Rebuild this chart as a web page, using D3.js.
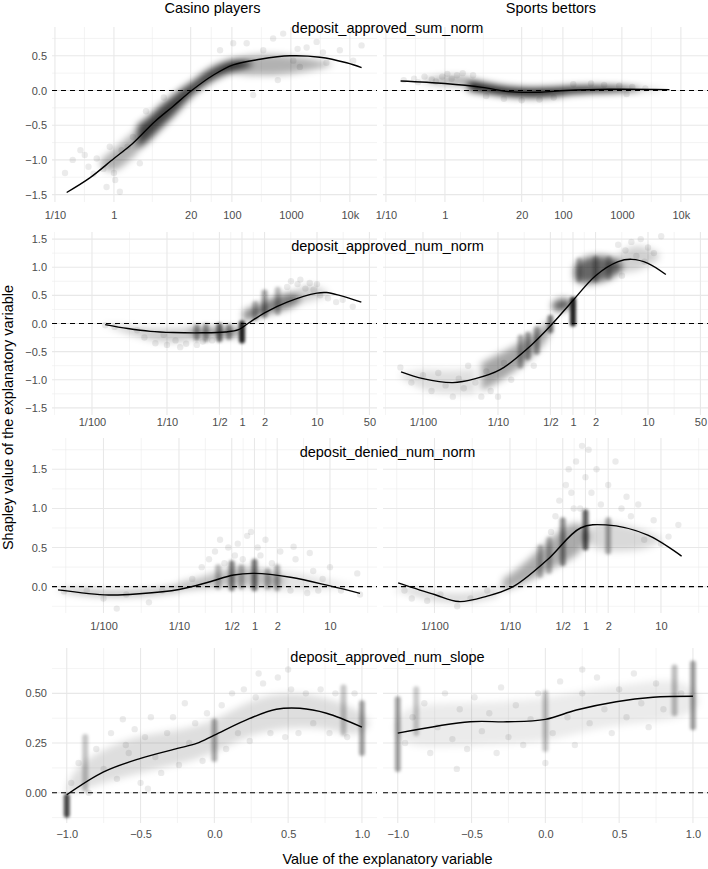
<!DOCTYPE html>
<html>
<head>
<meta charset="utf-8">
<title>Shapley dependence</title>
<script src="https://cdn.jsdelivr.net/npm/d3@7"></script>
<style>
body { margin: 0; background: #fff; }
svg text { font-family: "Liberation Sans", Arial, Helvetica, sans-serif; }
</style>
</head>
<body>
<svg id="chart"></svg>
<script>

// ---------- tick breaks ----------
var sumNormXBreaks = [0.1, 1, 20, 100, 1000, 10000];
var sumNormXLabels = ["1/10", "1", "20", "100", "1000", "10k"];
var numNormXBreaks = [0.01, 0.1, 0.5, 1, 2, 10, 50];
var numNormXLabels = ["1/100", "1/10", "1/2", "1", "2", "10", "50"];
var deniedXBreaks = [0.01, 0.1, 0.5, 1, 2, 10];
var deniedXLabels = ["1/100", "1/10", "1/2", "1", "2", "10"];
var slopeXBreaks = [-1, -0.5, 0, 0.5, 1];
var slopeXLabels = ["−1.0", "−0.5", "0.0", "0.5", "1.0"];

var sumNormYBreaks = [-1.5, -1, -0.5, 0, 0.5];
var sumNormYLabels = ["−1.5", "−1.0", "−0.5", "0.0", "0.5"];
var numNormYBreaks = [-1.5, -1, -0.5, 0, 0.5, 1, 1.5];
var numNormYLabels = ["−1.5", "−1.0", "−0.5", "0.0", "0.5", "1.0", "1.5"];
var deniedYBreaks = [0, 0.5, 1, 1.5];
var deniedYLabels = ["0.0", "0.5", "1.0", "1.5"];
var slopeYBreaks = [0, 0.25, 0.5];
var slopeYLabels = ["0.00", "0.25", "0.50"];

var groups = ["Casino players", "Sports bettors"];
var variables = ["deposit_approved_sum_norm", "deposit_approved_num_norm", "deposit_denied_num_norm", "deposit_approved_num_slope"];

// ---------- deposit_approved_sum_norm ----------
// line: [x, y]; bands: [x, low, high] outlines of the dense part of the cloud;
// cols: [x, low, high, density] stacks at discrete x; pts: [x, y] loose points
var casinoSumLine = [[0.158,-1.47],[0.39,-1.26],[1,-0.98],[2.1,-0.76],[4.9,-0.45],[10,-0.23],[20.8,0],[48,0.22],[105,0.37],[300,0.45],[960,0.5],[3100,0.48],[8800,0.40],[15800,0.33]];
var casinoSumBands = [
  [[0.6,-1.1,-1.0],[1,-1.2,-0.85],[1.6,-1.05,-0.7],[2.5,-0.9,-0.55]],
  [[2.5,-0.85,-0.5],[4,-0.72,-0.38],[6,-0.55,-0.22],[10,-0.38,-0.08],[15,-0.2,0.05],[22,-0.05,0.12],[35,0.08,0.28],[60,0.2,0.38],[100,0.27,0.45],[160,0.32,0.44],[220,0.37,0.4]],
  [[60,0.3,0.34],[150,0.22,0.5],[400,0.22,0.52],[1000,0.24,0.5],[2500,0.3,0.45],[5000,0.37,0.39]]
];
var casinoSumBandDens = [0.3, 0.75, 0.3];
var casinoSumPts = [[0.148,-1.19],[0.27,-0.86],[0.32,-0.93],[0.51,-0.98],[0.66,-1.13],[0.75,-1.39],[1,-1.19],[1.05,-1.29],[1.26,-1.46],[1.35,-0.86],[2.1,-0.67],[2.75,-1.05],[0.85,-0.81],[0.37,-1.1],[1.7,-0.81],[0.2,-1.0],[0.45,-1.2],[3.5,-0.3],[7,-0.1],
  [178,0.68],[340,0.58],[500,0.75],[740,0.82],[1100,0.43],[1420,0.34],[1850,0.62],[2730,0.70],[4000,0.40],[6760,0.58],[11400,0.43],[15800,0.65],[230,-0.065],[105,0.68],[63,0.58],[600,0.15],[1300,0.6],[3500,0.55]];

var sportsSumLine = [[0.177,0.137],[1,0.10],[4.3,0.045],[12,-0.017],[40,-0.025],[112,0.0],[620,0.017],[6400,0.012]];
var sportsSumBands = [
  [[0.4,0.13,0.15],[0.8,0.08,0.2],[1.5,0.07,0.22],[2.5,0.05,0.2]],
  [[2.5,0.0,0.15],[4,-0.03,0.12],[8,-0.06,0.07],[15,-0.09,0.04],[30,-0.1,0.03],[60,-0.09,0.04],[100,-0.06,0.05],[250,-0.03,0.07],[600,-0.02,0.06],[1200,-0.01,0.05],[2000,0.01,0.03]],
  [[1200,-0.01,0.04],[3000,0.0,0.03],[5000,0.01,0.02]]
];
var sportsSumBandDens = [0.3, 0.9, 0.3];
var sportsSumPts = [[0.2,0.15],[0.3,0.17],[0.35,0.12],[0.45,0.2],[0.6,0.16],[0.7,0.13],[0.9,0.2],[1.1,0.24],[1.3,0.17],[1.6,0.22],[2,0.25],[3,0.22],[5,-0.08],[10,-0.12],[20,-0.14],[40,-0.13],[70,-0.1],[150,0.09],[300,0.1],[500,0.08],[900,0.07],[1500,0.05],[1200,-0.05],[2500,0.03]];

// ---------- deposit_approved_num_norm ----------
var casinoNumLine = [[0.015,-0.02],[0.03,-0.09],[0.06,-0.14],[0.12,-0.16],[0.3,-0.165],[0.6,-0.15],[0.9,-0.11],[1.2,0.0],[2,0.19],[4,0.38],[10,0.54],[13.4,0.55],[20,0.5],[39,0.38]];
var casinoNumBands = [
  [[0.015,-0.03,-0.02],[0.03,-0.18,-0.05],[0.06,-0.3,-0.1],[0.12,-0.35,-0.1],[0.2,-0.3,-0.08]],
  [[0.2,-0.25,-0.08],[0.4,-0.24,-0.07],[0.95,-0.24,-0.06]],
  [[1.05,0.05,0.22],[1.5,0.1,0.3],[2,0.15,0.38],[3,0.22,0.5],[5,0.3,0.55],[6,0.4,0.45]],
  [[4,0.45,0.5],[6,0.35,0.65],[9,0.42,0.7],[14,0.5,0.55]]
];
var casinoNumBandDens = [0.2, 0.4, 0.5, 0.18];
var casinoNumCols = [[0.25,-0.26,-0.06,0.35],[0.33,-0.28,-0.05,0.35],[0.5,-0.28,-0.04,0.55],[0.67,-0.24,-0.06,0.35],[1,-0.3,0.0,0.85],[1.5,0.1,0.35,0.25],[2,0.15,0.55,0.35],[3,0.2,0.6,0.25]];
var casinoNumPts = [[0.015,-0.03],[0.02,-0.06],[0.04,-0.12],[0.05,-0.25],[0.07,-0.35],[0.09,-0.2],[0.1,-0.38],[0.13,-0.3],[0.15,-0.42],[0.18,-0.36],[0.25,-0.38],[0.3,-0.32],[0.4,-0.3],[4,0.65],[4.5,0.75],[5.5,0.7],[6,0.78],[7,0.62],[8,0.72],[9,0.6],[10,0.7],[11,0.5],[14,0.45],[18,0.38],[22,0.42],[30,0.3]];

var sportsNumLine = [[0.0051,-0.86],[0.01,-0.98],[0.025,-1.05],[0.05,-0.98],[0.107,-0.82],[0.25,-0.44],[0.51,-0.03],[1,0.41],[2,0.85],[4,1.1],[6.1,1.14],[10,1.07],[17.3,0.87]];
var sportsNumBands = [
  [[0.005,-0.95,-0.9],[0.01,-1.2,-0.8],[0.02,-1.25,-0.85],[0.05,-1.25,-0.8]],
  [[0.06,-1.2,-0.7],[0.1,-1.05,-0.55],[0.17,-0.85,-0.4],[0.28,-0.6,-0.2],[0.4,-0.4,-0.05],[0.5,-0.15,0.08]],
  [[0.52,0.3,0.32],[0.6,0.2,0.42],[0.75,0.24,0.45],[0.95,0.28,0.4]],
  [[1.05,0.8,1.0],[1.3,0.7,1.15],[1.8,0.72,1.2],[2.5,0.75,1.2],[3.5,0.82,1.18],[4.5,0.95,1.05]],
  [[3,0.95,1.05],[5,0.9,1.35],[8,0.95,1.4],[14,1.15,1.25]]
];
var sportsNumBandDens = [0.12, 0.35, 0.65, 0.6, 0.18];
var sportsNumCols = [[0.2,-0.75,-0.25,0.3],[0.25,-0.6,-0.2,0.35],[0.33,-0.5,-0.1,0.35],[0.5,-0.12,0.1,0.5],[1,0.0,0.42,0.85],[1.2,0.78,1.12,0.25],[2,0.78,1.15,0.25],[3,0.82,1.15,0.2]];
var sportsNumPts = [[0.005,-0.78],[0.007,-1.05],[0.01,-0.92],[0.013,-1.2],[0.016,-0.88],[0.02,-1.1],[0.025,-1.3],[0.03,-0.98],[0.035,-1.15],[0.04,-0.75],[0.05,-1.05],[0.06,-1.3],[0.07,-0.85],[0.08,-1.2],[0.1,-1.3],[0.12,-0.7],[0.15,-1.0],[0.3,-0.75],[4,1.4],[5,1.3],[6,1.45],[7,1.2],[8,1.5],[10,1.35],[12,1.25],[15,1.55],[4.5,0.85],[9,1.1]];

// ---------- deposit_denied_num_norm ----------
var casinoDenLine = [[0.0025,-0.04],[0.0117,-0.106],[0.03,-0.09],[0.1,-0.035],[0.25,0.06],[0.53,0.15],[1,0.17],[3,0.12],[10,0.01],[25,-0.085]];
var casinoDenBands = [
  [[0.0025,-0.05,-0.04],[0.004,-0.09,-0.02],[0.01,-0.13,-0.06],[0.03,-0.12,-0.05],[0.07,-0.08,-0.01],[0.1,-0.06,0.02]],
  [[0.1,-0.05,0.05],[0.2,-0.02,0.12],[0.35,0.0,0.2],[0.5,0.0,0.25],[1,0.0,0.25],[1.5,-0.02,0.2],[2.5,0.05,0.1]],
  [[1.5,-0.05,0.22],[4,-0.05,0.18],[10,-0.03,0.08],[20,0.0,0.02]]
];
var casinoDenBandDens = [0.3, 0.25, 0.1];
var casinoDenCols = [[0.33,0.0,0.25,0.25],[0.5,-0.02,0.3,0.45],[0.67,0.0,0.25,0.25],[1,-0.02,0.32,0.5],[1.5,0.0,0.2,0.25],[2,-0.02,0.25,0.3]];
var casinoDenPts = [[0.003,-0.06],[0.006,-0.05],[0.01,-0.15],[0.015,-0.28],[0.02,-0.1],[0.04,-0.2],[0.06,-0.05],[0.15,0.1],[0.2,0.25],[0.25,0.35],[0.3,0.45],[0.35,0.6],[0.4,0.3],[0.45,0.5],[0.55,0.4],[0.6,0.55],[0.7,0.35],[0.8,0.65],[0.9,0.7],[1.1,0.5],[1.2,0.4],[1.4,0.6],[1.7,0.3],[2.2,0.45],[3.3,0.51],[3.5,0.35],[5.4,0.43],[6,0.2],[8,0.1],[10,0.25],[14,-0.05],[23,0.17],[25,-0.1],[3,-0.05],[7,-0.05],[5,-0.08]];

var sportsDenLine = [[0.0033,0.05],[0.01,-0.1],[0.021,-0.19],[0.05,-0.12],[0.11,0.0],[0.31,0.34],[0.86,0.75],[1.86,0.79],[6.7,0.66],[18.8,0.39]];
var sportsDenBands = [
  [[0.003,-0.05,-0.03],[0.006,-0.12,0.0],[0.01,-0.2,-0.08],[0.03,-0.22,-0.1],[0.07,-0.12,0.0]],
  [[0.08,-0.05,0.1],[0.12,0.0,0.2],[0.2,0.1,0.4],[0.3,0.2,0.55],[0.5,0.3,0.75],[0.8,0.4,0.85],[1.1,0.6,0.7]],
  [[0.9,0.6,0.65],[1.5,0.45,0.85],[3,0.45,0.8],[6,0.47,0.72],[10,0.58,0.62]]
];
var sportsDenBandDens = [0.15, 0.33, 0.15];
var sportsDenCols = [[0.25,0.15,0.5,0.25],[0.33,0.2,0.6,0.25],[0.5,0.3,0.85,0.4],[1,0.5,0.95,0.6],[2,0.45,0.85,0.3]];
var sportsDenPts = [[0.004,-0.05],[0.005,-0.15],[0.008,-0.18],[0.012,-0.1],[0.02,-0.25],[0.03,-0.15],[0.05,-0.05],[0.4,0.9],[0.45,1.1],[0.55,1.3],[0.6,1.5],[0.65,1.2],[0.75,1.6],[0.85,1.0],[0.9,1.8],[1,1.4],[1.1,1.75],[1.2,1.2],[1.4,1.5],[1.6,1.05],[2,1.3],[2.5,1.6],[3,1.0],[3.5,1.15],[4,0.9],[5,1.05],[6,0.6],[8,0.85],[10,0.55],[12.6,0.64],[17,0.79],[0.35,0.7],[0.7,1.0]];

// ---------- deposit_approved_num_slope ----------
var casinoSlopeLine = [[-1,-0.01],[-0.75,0.105],[-0.5,0.173],[-0.25,0.223],[-0.12,0.248],[0,0.29],[0.24,0.374],[0.42,0.42],[0.58,0.425],[0.76,0.4],[1,0.33]];
var casinoSlopeBands = [
  [[-1,0.0,0.02],[-0.95,0.0,0.12],[-0.8,0.04,0.2],[-0.6,0.08,0.27],[-0.4,0.12,0.3],[-0.2,0.15,0.32],[0.0,0.2,0.36],[0.2,0.28,0.45],[0.4,0.32,0.5],[0.6,0.33,0.5],[0.8,0.32,0.47],[0.97,0.28,0.42],[1.05,0.34,0.36]]
];
var casinoSlopeBandDens = [0.13];
var casinoSlopeCols = [[-1,-0.11,-0.02,0.7],[-0.875,0.02,0.28,0.22],[0,0.17,0.36,0.3],[0.875,0.3,0.53,0.22],[1,0.2,0.45,0.35]];
var casinoSlopePts = [[-0.97,0.05],[-0.92,0.15],[-0.85,0.0],[-0.8,0.22],[-0.75,0.12],[-0.7,0.3],[-0.66,0.07],[-0.62,0.37],[-0.58,0.2],[-0.54,0.32],[-0.5,0.05],[-0.47,0.28],[-0.43,0.38],[-0.4,0.18],[-0.36,0.1],[-0.32,0.3],[-0.28,0.38],[-0.24,0.14],[-0.2,0.45],[-0.17,0.25],[-0.13,0.35],[-0.08,0.16],[-0.05,0.4],[0.05,0.44],[0.08,0.22],[0.12,0.5],[0.16,0.3],[0.2,0.52],[0.24,0.26],[0.28,0.48],[0.33,0.55],[0.38,0.3],[0.43,0.58],[0.48,0.28],[0.52,0.52],[0.57,0.3],[0.62,0.5],[0.67,0.35],[0.72,0.52],[0.78,0.3],[0.82,0.5],[0.9,0.28],[0.95,0.5],[-0.45,0.02],[-0.6,0.24],[0.3,0.6],[0.5,0.62]];

var sportsSlopeLine = [[-1,0.30],[-0.51,0.357],[-0.26,0.357],[0,0.369],[0.21,0.416],[0.48,0.458],[0.73,0.48],[1,0.485]];
var sportsSlopeBands = [
  [[-1.02,0.32,0.34],[-0.95,0.22,0.45],[-0.5,0.24,0.45],[0.0,0.25,0.47],[0.3,0.32,0.52],[0.6,0.35,0.55],[0.95,0.37,0.58],[1.04,0.45,0.47]]
];
var sportsSlopeBandDens = [0.08];
var sportsSlopeCols = [[-1,0.12,0.47,0.35],[-0.875,0.3,0.52,0.2],[0,0.22,0.5,0.22],[0.875,0.4,0.63,0.25],[1,0.33,0.65,0.35]];
var sportsSlopePts = [[-0.95,0.25],[-0.9,0.38],[-0.82,0.45],[-0.78,0.2],[-0.73,0.33],[-0.68,0.5],[-0.63,0.27],[-0.58,0.42],[-0.53,0.22],[-0.48,0.48],[-0.43,0.31],[-0.38,0.4],[-0.33,0.2],[-0.3,0.53],[-0.25,0.28],[-0.2,0.44],[-0.15,0.24],[-0.1,0.37],[-0.05,0.5],[0.05,0.3],[0.1,0.56],[0.15,0.38],[0.2,0.24],[0.25,0.5],[0.3,0.35],[0.35,0.58],[0.4,0.42],[0.45,0.3],[0.5,0.52],[0.55,0.38],[0.6,0.6],[0.65,0.45],[0.7,0.33],[0.75,0.55],[0.8,0.42],[0.92,0.5],[-0.6,0.12],[0.0,0.15],[0.25,0.62]];

// ---------- layout ----------
var W = 708, H = 869;
var cols = [{x0: 52, x1: 377}, {x0: 383, x1: 708}];

var rows = [
  {log: true, xdom: [Math.pow(10, -1.05), Math.pow(10, 4.46)], xb: sumNormXBreaks, xl: sumNormXLabels,
   ydom: [-1.607, 0.915], yb: sumNormYBreaks, yl: sumNormYLabels, top: 27, bottom: 202, titleY: 32.5, tickY: 219.5,
   panels: [
     {line: casinoSumLine, bands: casinoSumBands, dens: casinoSumBandDens, cols: [], pts: casinoSumPts},
     {line: sportsSumLine, bands: sportsSumBands, dens: sportsSumBandDens, cols: [], pts: sportsSumPts}]},
  {log: true, xdom: [Math.pow(10, -2.533), Math.pow(10, 1.8)], xb: numNormXBreaks, xl: numNormXLabels,
   ydom: [-1.626, 1.626], yb: numNormYBreaks, yl: numNormYLabels, top: 232, bottom: 415, titleY: 250.5, tickY: 426.5,
   panels: [
     {line: casinoNumLine, bands: casinoNumBands, dens: casinoNumBandDens, cols: casinoNumCols, pts: casinoNumPts},
     {line: sportsNumLine, bands: sportsNumBands, dens: sportsNumBandDens, cols: sportsNumCols, pts: sportsNumPts}]},
  {log: true, xdom: [Math.pow(10, -2.682), Math.pow(10, 1.623)], xb: deniedXBreaks, xl: deniedXLabels,
   ydom: [-0.336, 1.90], yb: deniedYBreaks, yl: deniedYLabels, top: 438, bottom: 613, titleY: 456.5, tickY: 630,
   panels: [
     {line: casinoDenLine, bands: casinoDenBands, dens: casinoDenBandDens, cols: casinoDenCols, pts: casinoDenPts},
     {line: sportsDenLine, bands: sportsDenBands, dens: sportsDenBandDens, cols: sportsDenCols, pts: sportsDenPts}]},
  {log: false, xdom: [-1.1, 1.102], xb: slopeXBreaks, xl: slopeXLabels,
   ydom: [-0.152, 0.728], yb: slopeYBreaks, yl: slopeYLabels, top: 648, bottom: 823, titleY: 661.5, tickY: 838,
   panels: [
     {line: casinoSlopeLine, bands: casinoSlopeBands, dens: casinoSlopeBandDens, cols: casinoSlopeCols, pts: casinoSlopePts},
     {line: sportsSlopeLine, bands: sportsSlopeBands, dens: sportsSlopeBandDens, cols: sportsSlopeCols, pts: sportsSlopePts}]}
];

// ggplot-like minor breaks: midpoints between majors, extended one step each side
function minorBreaks(breaks, dom, tf, inv) {
  var b = breaks.map(tf);
  var bd = b[1] - b[0];
  var lo = Math.min(tf(dom[0]), tf(dom[1])), hi = Math.max(tf(dom[0]), tf(dom[1]));
  if (lo < b[0]) b.unshift(b[0] - bd);
  if (hi > b[b.length - 1]) b.push(b[b.length - 1] + bd);
  var m = [];
  for (var i = 0; i < b.length - 1; i++) m.push((b[i] + b[i + 1]) / 2);
  return m.filter(function(v) { return v > lo && v < hi; }).map(inv);
}
var ident = function(v) { return v; };

var svg = d3.select("#chart").attr("width", W).attr("height", H);
var defs = svg.append("defs");
defs.append("filter").attr("id", "blurBand").attr("filterUnits", "userSpaceOnUse")
  .attr("x", 0).attr("y", 0).attr("width", W).attr("height", H)
  .append("feGaussianBlur").attr("stdDeviation", 3.6);
defs.append("filter").attr("id", "blurCol").attr("filterUnits", "userSpaceOnUse")
  .attr("x", 0).attr("y", 0).attr("width", W).attr("height", H)
  .append("feGaussianBlur").attr("stdDeviation", 1.6);

rows.forEach(function(r, ri) {
  var y = d3.scaleLinear().domain(r.ydom).range([r.bottom, r.top]);
  var yMinor = minorBreaks(r.yb, r.ydom, ident, ident);

  r.panels.forEach(function(p, ci) {
    var c = cols[ci];
    var x = r.log ? d3.scaleLog().domain(r.xdom).range([c.x0, c.x1])
                  : d3.scaleLinear().domain(r.xdom).range([c.x0, c.x1]);
    var xMinor = r.log ? minorBreaks(r.xb, r.xdom, Math.log10, function(v) { return Math.pow(10, v); })
                       : minorBreaks(r.xb, r.xdom, ident, ident);

    var clipId = "clip" + ri + "_" + ci;
    defs.append("clipPath").attr("id", clipId).append("rect")
      .attr("x", c.x0).attr("y", r.top).attr("width", c.x1 - c.x0).attr("height", r.bottom - r.top);

    var g = svg.append("g");
    var grid = g.append("g");
    grid.selectAll(".ymin").data(yMinor).enter().append("line")
      .attr("x1", c.x0).attr("x2", c.x1).attr("y1", y).attr("y2", y)
      .attr("stroke", "#ededed").attr("stroke-width", 0.6);
    grid.selectAll(".xmin").data(xMinor).enter().append("line")
      .attr("x1", x).attr("x2", x).attr("y1", r.top).attr("y2", r.bottom)
      .attr("stroke", "#ededed").attr("stroke-width", 0.6);
    grid.selectAll(".ymaj").data(r.yb).enter().append("line")
      .attr("x1", c.x0).attr("x2", c.x1).attr("y1", y).attr("y2", y)
      .attr("stroke", "#e8e8e8").attr("stroke-width", 1.1);
    grid.selectAll(".xmaj").data(r.xb).enter().append("line")
      .attr("x1", x).attr("x2", x).attr("y1", r.top).attr("y2", r.bottom)
      .attr("stroke", "#e8e8e8").attr("stroke-width", 1.1);

    var marks = g.append("g").attr("clip-path", "url(#" + clipId + ")");

    var area = d3.area().curve(d3.curveBasis)
      .x(function(d) { return x(d[0]); })
      .y0(function(d) { return y(d[1]); })
      .y1(function(d) { return y(d[2]); });
    marks.append("g").attr("filter", "url(#blurBand)")
      .selectAll("path").data(p.bands).enter().append("path")
      .attr("d", area).attr("fill", "#000")
      .attr("fill-opacity", function(d, i) { return p.dens[i]; });

    marks.append("g").attr("filter", "url(#blurCol)")
      .selectAll("rect").data(p.cols).enter().append("rect")
      .attr("x", function(d) { return x(d[0]) - 3; })
      .attr("width", 6)
      .attr("y", function(d) { return y(d[2]) - 3; })
      .attr("height", function(d) { return y(d[1]) - y(d[2]) + 6; })
      .attr("rx", 3)
      .attr("fill", "#000")
      .attr("fill-opacity", function(d) { return d[3]; });

    marks.append("g").selectAll("circle").data(p.pts).enter().append("circle")
      .attr("cx", function(d) { return x(d[0]); })
      .attr("cy", function(d) { return y(d[1]); })
      .attr("r", 3.2)
      .attr("fill", "#000").attr("fill-opacity", 0.08);

    g.append("line")
      .attr("x1", c.x0).attr("x2", c.x1).attr("y1", y(0)).attr("y2", y(0))
      .attr("stroke", "#000").attr("stroke-width", 1.2).attr("stroke-dasharray", "5,4");

    marks.append("path").datum(p.line)
      .attr("d", d3.line().curve(d3.curveCatmullRom)
        .x(function(d) { return x(d[0]); })
        .y(function(d) { return y(d[1]); }))
      .attr("fill", "none").attr("stroke", "#000").attr("stroke-width", 1.4);

    // x axis
    var xa = svg.append("g").attr("transform", "translate(0," + (r.tickY - 8) + ")")
      .call(d3.axisBottom(x).tickValues(r.xb)
        .tickFormat(function(d, i) { return r.xl[i]; })
        .tickSize(0).tickPadding(0));
    xa.select(".domain").remove();
    xa.selectAll("text").attr("fill", "#4d4d4d").style("font-size", "11px")
      .style("font-family", "'Liberation Sans', Arial, sans-serif");

    if (ci === 0) {
      var ya = svg.append("g").attr("transform", "translate(" + (c.x0 - 5) + ",0)")
        .call(d3.axisLeft(y).tickValues(r.yb)
          .tickFormat(function(d, i) { return r.yl[i]; })
          .tickSize(0).tickPadding(0));
      ya.select(".domain").remove();
      ya.selectAll("text").attr("fill", "#4d4d4d").style("font-size", "11px")
        .style("font-family", "'Liberation Sans', Arial, sans-serif");
    }
  });

  svg.append("text").attr("x", 387.5).attr("y", r.titleY)
    .attr("text-anchor", "middle").attr("font-size", 14.5).attr("fill", "#000")
    .text(variables[ri]);
});

svg.append("text").attr("x", 212.5).attr("y", 13).attr("text-anchor", "middle")
  .attr("font-size", 14.5).text(groups[0]);
svg.append("text").attr("x", 551).attr("y", 13).attr("text-anchor", "middle")
  .attr("font-size", 14.5).text(groups[1]);

svg.append("text").attr("x", 387.5).attr("y", 863.5).attr("text-anchor", "middle")
  .attr("font-size", 14.5).text("Value of the explanatory variable");
svg.append("text").attr("transform", "translate(13,417.5) rotate(-90)")
  .attr("text-anchor", "middle").attr("font-size", 14.5)
  .text("Shapley value of the explanatory variable");

</script>
</body>
</html>
